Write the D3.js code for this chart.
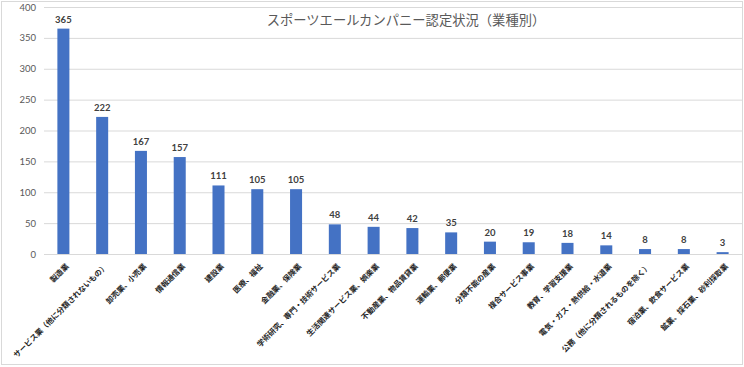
<!DOCTYPE html>
<html><head><meta charset="utf-8">
<script src="https://cdn.jsdelivr.net/npm/d3@7"></script>
<style>body{margin:0;background:#fff}svg{display:block}</style>
</head><body><svg id="c" width="744" height="367"></svg>
<script>
const categories = ["製造業","サービス業（他に分類されないもの）","卸売業、小売業","情報通信業","建設業","医療、福祉","金融業、保険業","学術研究、専門・技術サービス業","生活関連サービス業、娯楽業","不動産業、物品賃貸業","運輸業、郵便業","分類不能の産業","複合サービス事業","教育、学習支援業","電気・ガス・熱供給・水道業","公務（他に分類されるものを除く）","宿泊業、飲食サービス業","鉱業、採石業、砂利採取業"];
const values = [365,222,167,157,111,105,105,48,44,42,35,20,19,18,14,8,8,3];
const yTicks = [0,50,100,150,200,250,300,350,400];
const title = "スポーツエールカンパニー認定状況（業種別）";

const svg = d3.select("#c");
const jp = "'Noto Sans CJK JP', sans-serif";
const num = "Lato, 'Liberation Sans', sans-serif";
svg.append("rect").attr("x",1.5).attr("y",1.5).attr("width",741).attr("height",363)
  .attr("fill","#fff").attr("stroke","#d9d9d9");

const x = d3.scaleBand().domain(categories).range([44,742]).paddingInner(0.69).paddingOuter(0.345);
const y = d3.scaleLinear().domain([0,400]).range([254,7]);

const yAxis = svg.append("g").attr("transform","translate(44,0)")
  .call(d3.axisLeft(y).tickValues(yTicks).tickSize(-698).tickPadding(8));
yAxis.select(".domain").remove();
yAxis.selectAll("line").attr("stroke","#d9d9d9");
yAxis.selectAll("text").attr("fill","#595959").style("font-family",num).style("font-size","9.5px");

svg.append("g").selectAll("rect").data(values).join("rect")
  .attr("x",(d,i)=>x(categories[i])).attr("width",x.bandwidth())
  .attr("y",d=>y(d)).attr("height",d=>y(0)-y(d)).attr("fill","#4472C4");

svg.append("g").selectAll("text").data(values).join("text")
  .attr("x",(d,i)=>x(categories[i])+x.bandwidth()/2).attr("y",d=>y(d)-6)
  .attr("text-anchor","middle").attr("fill","#404040")
  .style("font-family",num).style("font-size","9.5px").style("font-weight","bold").text(d=>d);

const xAxis = svg.append("g").attr("transform","translate(0,254)")
  .call(d3.axisBottom(x).tickSize(0).tickPadding(0));
xAxis.select(".domain").attr("stroke","#d9d9d9");
xAxis.selectAll("text").attr("text-anchor","end").attr("fill","#262626")
  .attr("transform","translate(4,11) rotate(-45)").attr("dy","0.35em").attr("y",0)
  .style("font-family",jp).style("font-size","7.6px").style("font-weight","bold");

svg.append("text").attr("x",406).attr("y",25).attr("text-anchor","middle")
  .attr("fill","#595959").style("font-family",jp).style("font-size","13.3px").text(title);
</script></body></html>
